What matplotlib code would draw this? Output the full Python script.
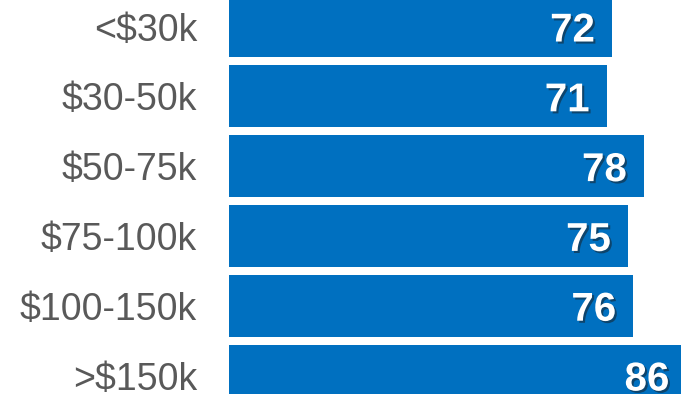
import matplotlib.pyplot as plt
import matplotlib.patheffects as pe

# income groups and their values
categories = ['<$30k', '$30-50k', '$50-75k', '$75-100k', '$100-150k', '>$150k']
values = [72, 71, 78, 75, 76, 86]

plt.rcParams['font.family'] = ['Liberation Sans', 'DejaVu Sans']

fig = plt.figure(figsize=(6.81, 3.94), dpi=100)
ax = fig.add_axes([229 / 681, 0, 1 - 229 / 681, 1])

pos = list(range(len(categories)))
bars = ax.barh(pos, values, height=0.886, color='#0070C0')

# the chart is cropped: top/bottom bars and the longest bar run off the edge
ax.set_xlim(0, 85.0)
ax.set_ylim(5.265, -0.38)

ax.set_yticks(pos)
ax.set_yticklabels(categories, fontsize=27, color='#595959')
ax.tick_params(axis='y', length=0, pad=23)
ax.set_xticks([])
for s in ax.spines.values():
    s.set_visible(False)

# white bold values with a small drop shadow, inside the bar end
for b, v in zip(bars, values):
    ax.annotate(str(v), xy=(b.get_width(), b.get_y() + b.get_height() / 2),
                xytext=(-17, 0), textcoords='offset pixels',
                ha='right', va='center_baseline', fontsize=29, fontweight='bold',
                color='white', annotation_clip=False,
                path_effects=[pe.withSimplePatchShadow(offset=(1.5, -1.5),
                                                       shadow_rgbFace='#1a1a1a', alpha=0.5)])

fig.savefig('out.png', dpi=100)
